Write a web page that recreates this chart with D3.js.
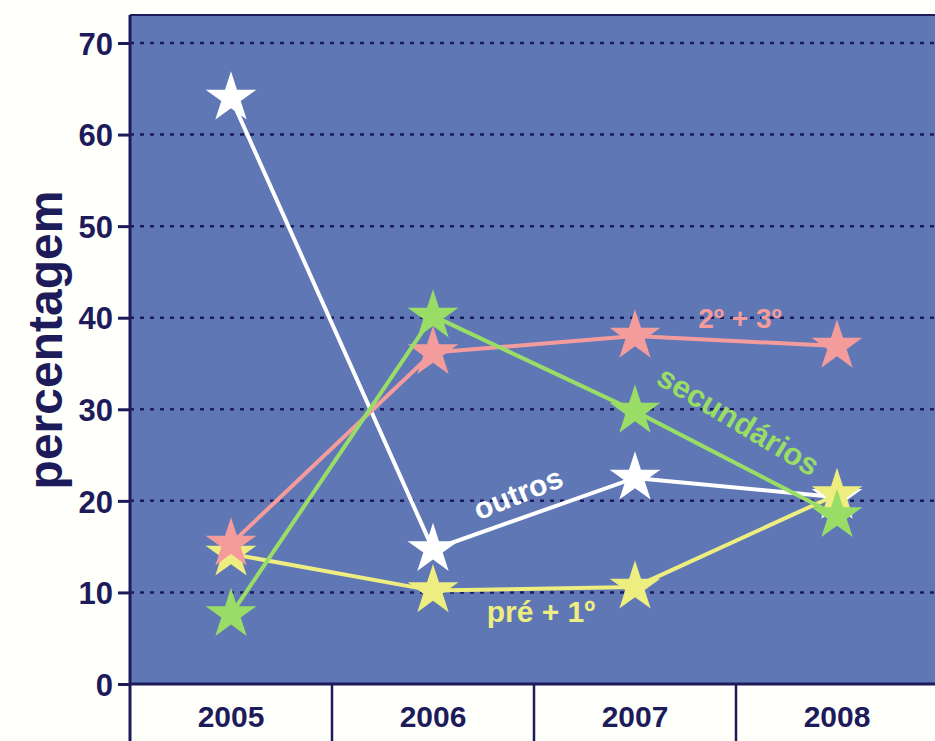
<!DOCTYPE html>
<html><head><meta charset="utf-8">
<script src="https://cdn.jsdelivr.net/npm/d3@7"></script>
<style>html,body{margin:0;padding:0;background:#fffffc;}svg{display:block;}</style>
</head><body>
<svg id="c" width="935" height="741"></svg>
<script>
const years = ["2005","2006","2007","2008"];
const yTicks = [0,10,20,30,40,50,60,70];
const outros = [64.0, 14.7, 22.5, 20.4];
const pre1 = [14.2, 10.2, 10.6, 20.7];
const seg3 = [15.3, 36.2, 38.0, 36.9];
const secundarios = [7.6, 40.2, 29.8, 18.4];
const seriesNames = ["outros","pré + 1º","2º + 3º","secundários"];
const seriesColors = ["#ffffff","#eeee80","#f49c9c","#99dd66"];

const svg = d3.select("#c");
const L = 130, R = 935, T = 15, B = 684;
const FONT = "Liberation Sans, Arial, sans-serif";
const x = d3.scaleBand().domain(years).range([L, 938]);
const y = d3.scaleLinear().domain([0,70]).range([B, 43]);
const navy = "#1e1b5a";

svg.append("rect").attr("x",L).attr("y",T).attr("width",R-L).attr("height",B-T).attr("fill","#5f78b5");
svg.append("line").attr("x1",L).attr("x2",R).attr("y1",T).attr("y2",T).attr("stroke",navy).attr("stroke-width",2);

// grid
svg.append("g").selectAll("line").data(yTicks.filter(d=>d>0)).join("line")
  .attr("x1",L).attr("x2",R).attr("y1",d=>y(d)).attr("y2",d=>y(d))
  .attr("stroke",navy).attr("stroke-width",2.5).attr("stroke-dasharray","4,6");

// y axis
const ya = svg.append("g").attr("transform",`translate(${L},0)`)
  .call(d3.axisLeft(y).tickValues(yTicks).tickSize(12).tickPadding(5));
ya.attr("font-size",null).attr("font-family",null);
ya.select(".domain").attr("stroke",navy).attr("stroke-width",3).attr("d",`M0,${T}V741`);
ya.selectAll(".tick line").attr("stroke",navy).attr("stroke-width",3);
ya.selectAll(".tick text").attr("fill",navy).style("font-family",FONT)
  .style("font-weight","bold").style("font-size","31px").attr("dy","0.36em");

// x axis line
svg.append("line").attr("x1",L).attr("x2",R).attr("y1",B).attr("y2",B).attr("stroke",navy).attr("stroke-width",3);
svg.append("g").selectAll("line").data(years.slice(1)).join("line")
  .attr("x1",d=>x(d)).attr("x2",d=>x(d)).attr("y1",B).attr("y2",741)
  .attr("stroke",navy).attr("stroke-width",2.5);
svg.append("g").selectAll("text").data(years).join("text")
  .attr("x",d=>x(d)+x.bandwidth()/2).attr("y",727).attr("text-anchor","middle")
  .attr("fill",navy).style("font-family",FONT)
  .style("font-weight","bold").style("font-size","30px").text(d=>d);

// y label
svg.append("text").attr("transform","translate(62,340) rotate(-90)").attr("text-anchor","middle")
  .attr("fill",navy).style("font-family",FONT)
  .style("font-weight","bold").style("font-size","48px").text("percentagem");

const star = d3.symbol().type(d3.symbolStar).size(800);
const line = d3.line().x((d,i)=>x(years[i])+x.bandwidth()/2).y(d=>y(d));
const allSeries = [outros, pre1, seg3, secundarios];
allSeries.forEach((s,k)=>{
  const g = svg.append("g");
  g.append("path").attr("d",line(s)).attr("fill","none").attr("stroke",seriesColors[k]).attr("stroke-width",4);
  g.selectAll("path.s").data(s).join("path").attr("class","s")
    .attr("transform",(d,i)=>`translate(${x(years[i])+x.bandwidth()/2},${y(d)})`)
    .attr("d",star).attr("fill",seriesColors[k]);
});

const lab = (t,cx,cy,rot,col,fs)=>svg.append("text").attr("transform",`translate(${cx},${cy}) rotate(${rot})`)
  .attr("text-anchor","middle").attr("fill",col).style("font-family",FONT)
  .style("font-weight","bold").style("font-size",fs+"px").text(t);
lab(seriesNames[0],522,503,-22,seriesColors[0],30);
lab(seriesNames[1],541,622,0,seriesColors[1],30);
lab(seriesNames[2],740,328,0,seriesColors[2],28);
lab(seriesNames[3],733,430,31,seriesColors[3],31);
</script>
</body></html>
